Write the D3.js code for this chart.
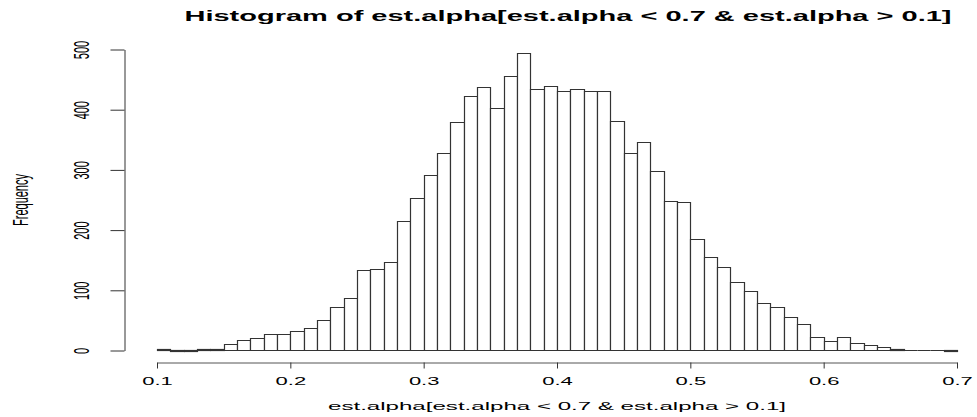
<!DOCTYPE html>
<html>
<head>
<meta charset="utf-8">
<script src="https://cdn.jsdelivr.net/npm/d3@7"></script>
<style>
  html, body { margin: 0; padding: 0; background: #fff; }
  svg { display: block; font-family: "Liberation Sans", Arial, sans-serif; }
</style>
</head>
<body>
<svg id="chart" width="977" height="417"></svg>
<script>
// counts per bin of width 0.01, starting at 0.10
const counts = [
  2, 0, 0, 3, 3, 11, 18, 20, 28, 28,
  32, 38, 50, 72, 88, 133, 136, 147, 215, 254,
  291, 328, 380, 422, 438, 403, 456, 494, 435, 440,
  431, 434, 431, 431, 381, 328, 347, 298, 248, 246,
  185, 156, 139, 114, 99, 79, 72, 56, 44, 23,
  16, 22, 13, 9, 5, 3, 1, 1, 1, 0
];
const binStart = 0.1;
const binWidth = 0.01;
const xTicks = [0.1, 0.2, 0.3, 0.4, 0.5, 0.6, 0.7];
const yTicks = [0, 100, 200, 300, 400, 500];
const title = 'Histogram of est.alpha[est.alpha < 0.7 & est.alpha > 0.1]';
const xLabel = 'est.alpha[est.alpha < 0.7 & est.alpha > 0.1]';
const yLabel = 'Frequency';

// the picture is stretched sideways, so text is too
const stretch = 2;

const svg = d3.select('#chart');

const x = d3.scaleLinear().domain([0.1, 0.7]).range([157, 957]);
const y = d3.scaleLinear().domain([0, 500]).range([350.5, 49.5]);

// bars (zero bins still show as a line, like R)
const bins = counts.map((c, i) => ({
  x0: binStart + i * binWidth,
  x1: binStart + (i + 1) * binWidth,
  count: c
}));

svg.append('g')
  .selectAll('path')
  .data(bins)
  .join('path')
  .attr('d', d => {
    const l = Math.round(x(d.x0)) + 0.5;
    const r = Math.round(x(d.x1)) + 0.5;
    const t = Math.round(y(d.count)) + 0.5;
    const b = y(0);
    return `M${l},${b}V${t}H${r}V${b}Z`;
  })
  .attr('fill', '#fff')
  .attr('stroke', '#333')
  .attr('stroke-width', 1.2);

// x axis
const xAxis = svg.append('g')
  .attr('transform', 'translate(0,362.5)')
  .call(d3.axisBottom(x).tickValues(xTicks).tickFormat(d3.format('.1f'))
    .tickSize(6).tickSizeOuter(0));

xAxis.select('.domain').attr('stroke', '#555');
xAxis.selectAll('.tick line').attr('stroke', '#333');
xAxis.selectAll('.tick text')
  .attr('y', null)
  .attr('dy', null)
  .attr('transform', `translate(0,22.5) scale(${stretch},1)`)
  .attr('font-size', 11)
  .attr('font-family', '"Liberation Sans", Arial, sans-serif')
  .attr('fill', '#000');

// y axis
const yAxis = svg.append('g')
  .attr('transform', 'translate(124.5,0)')
  .call(d3.axisLeft(y).tickValues(yTicks).tickSize(14).tickSizeOuter(0));

yAxis.select('.domain').attr('stroke', '#333');
yAxis.selectAll('.tick line').attr('stroke', '#333');
yAxis.selectAll('.tick text')
  .attr('x', null)
  .attr('dy', null)
  .attr('text-anchor', 'middle')
  .attr('transform', `translate(-36,0) scale(${stretch},1) rotate(-90)`)
  .attr('font-size', 11)
  .attr('font-family', '"Liberation Sans", Arial, sans-serif')
  .attr('fill', '#000');

// title
svg.append('text')
  .attr('x', 568)
  .attr('y', 21)
  .attr('text-anchor', 'middle')
  .attr('font-size', 15)
  .attr('font-weight', 'bold')
  .attr('textLength', 767)
  .attr('lengthAdjust', 'spacingAndGlyphs')
  .text(title);

// x label
svg.append('text')
  .attr('x', 557)
  .attr('y', 410)
  .attr('text-anchor', 'middle')
  .attr('font-size', 11)
  .attr('textLength', 458)
  .attr('lengthAdjust', 'spacingAndGlyphs')
  .text(xLabel);

// y label
svg.append('text')
  .attr('text-anchor', 'middle')
  .attr('font-size', 11)
  .attr('transform', `translate(28,200) scale(${stretch},1) rotate(-90)`)
  .text(yLabel);
</script>
</body>
</html>
